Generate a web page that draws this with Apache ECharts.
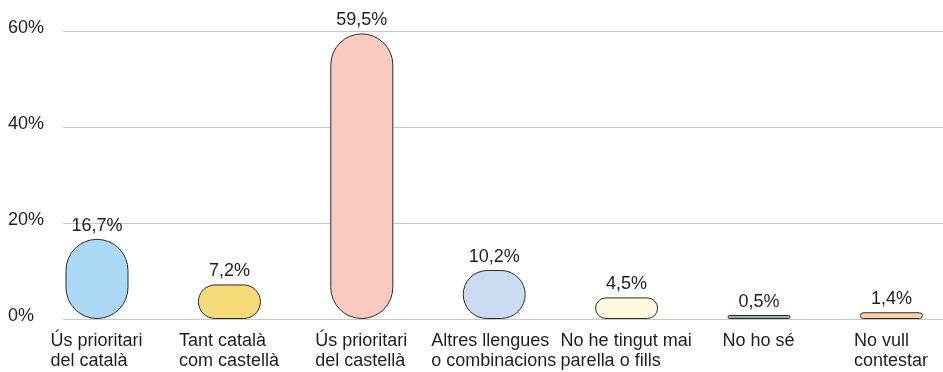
<!DOCTYPE html>
<html>
<head>
<meta charset="utf-8">
<script src="https://cdn.jsdelivr.net/npm/echarts@6/dist/echarts.min.js"></script>
<style>
  html, body { margin: 0; padding: 0; background: #fff; }
  #chart { width: 943px; height: 372px; }
</style>
</head>
<body>
<div id="chart"></div>
<script>
// Data
const categories = [
  'Ús prioritari\ndel català',
  'Tant català\ncom castellà',
  'Ús prioritari\ndel castellà',
  'Altres llengues\no combinacions',
  'No he tingut mai\nparella o fills',
  'No ho sé',
  'No vull\ncontestar'
];
const values = [16.7, 7.2, 59.5, 10.2, 4.5, 0.5, 1.4];
const barColors = ['#acd9f5', '#f6d978', '#f9cbc0', '#ccdbf1', '#fbf8dd', '#8db6ad', '#fcd2a6'];
const yTicks = [0, 20, 40, 60];
const positions = categories.map((c, i) => i);

const FONT = '"Liberation Sans", Arial, sans-serif';
const TEXT = '#1e1e1e';

// measure widest line of each category label so lines can be left-aligned in a centered block
const ctx = document.createElement('canvas').getContext('2d');
ctx.font = '18px "Liberation Sans"';
const rich = {};
categories.forEach((c, i) => {
  const w = Math.max(...c.split('\n').map(l => ctx.measureText(l).width));
  rich['l' + i] = { width: Math.ceil(w), align: 'left', fontSize: 18, lineHeight: 20, color: TEXT, fontFamily: FONT };
});

const chart = echarts.init(document.getElementById('chart'), null, { renderer: 'canvas' });

// band positions: first bar centre sits 34px right of the plot's left edge, 132.4px per band
const LEFT = 63;
const BAND = 132.4;
const FIRST = 34;

const option = {
  animation: false,
  textStyle: { fontFamily: FONT },
  grid: { left: LEFT, right: 0, top: 31, bottom: 53 },
  xAxis: {
    type: 'value',
    min: -FIRST / BAND,
    max: (943 - LEFT - FIRST) / BAND,
    axisLine: { show: false },
    axisTick: { show: false },
    splitLine: { show: false },
    axisLabel: {
      customValues: positions,
      margin: 12,
      formatter: (value) => {
        const i = Math.round(value);
        return categories[i].split('\n').map(l => `{l${i}|${l}}`).join('\n');
      },
      rich: rich
    }
  },
  yAxis: {
    type: 'value',
    min: yTicks[0],
    max: yTicks[yTicks.length - 1],
    interval: 20,
    axisLine: { show: false },
    axisTick: { show: false },
    axisLabel: {
      formatter: '{value}%',
      align: 'left',
      verticalAlign: 'bottom',
      lineHeight: 6,
      margin: 55,
      fontSize: 18,
      color: TEXT
    },
    splitLine: { lineStyle: { color: '#c8c8c8', width: 1 } }
  },
  series: [
    {
      type: 'bar',
      barWidth: 63,
      barMinHeight: 4,
      data: values.map((v, i) => ({
        value: [positions[i], v],
        itemStyle: { color: barColors[i] }
      })),
      itemStyle: {
        borderColor: '#2a2a2a',
        borderWidth: 1,
        borderRadius: 31
      },
      label: {
        show: true,
        position: 'top',
        distance: 4,
        fontSize: 18,
        color: TEXT,
        formatter: p => String(p.value[1]).replace('.', ',') + '%'
      }
    }
  ]
};

chart.setOption(option);
</script>
</body>
</html>
